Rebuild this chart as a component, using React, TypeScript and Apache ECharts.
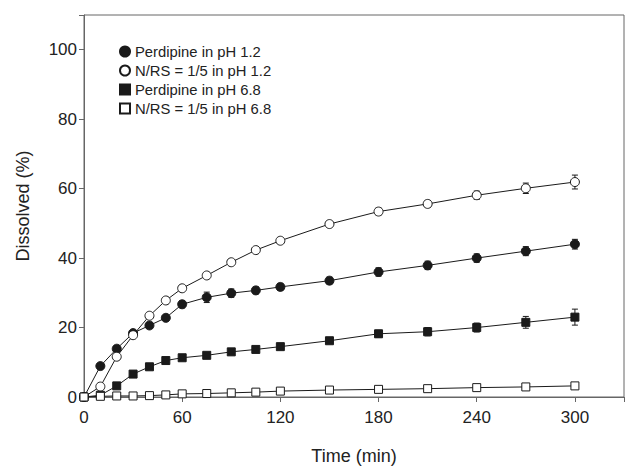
import React, { useEffect, useRef } from "react";
import * as echarts from "echarts";

const times = [0, 10, 20, 30, 40, 50, 60, 75, 90, 105, 120, 150, 180, 210, 240, 270, 300];
const xTicks = [0, 60, 120, 180, 240, 300];
const yTicks = [0, 20, 40, 60, 80, 100];

const seriesNames = [
  "Perdipine in pH 1.2",
  "N/RS = 1/5 in pH 1.2",
  "Perdipine in pH 6.8",
  "N/RS = 1/5 in pH 6.8",
];

const perdipine12 = [0, 8.9, 13.9, 18.4, 20.6, 22.8, 26.7, 28.7, 29.9, 30.7, 31.7, 33.5, 36.0, 37.9, 40.0, 42.0, 44.0];
const perdipine12Err = [0, 0.5, 0.8, 0.8, 0.8, 0.8, 1.0, 1.5, 1.2, 1.0, 1.0, 1.0, 1.2, 1.2, 1.2, 1.3, 1.4];

const nrs12 = [0, 3.0, 11.6, 17.8, 23.4, 27.8, 31.3, 35.0, 38.8, 42.3, 45.0, 49.8, 53.4, 55.6, 58.1, 60.1, 61.9];
const nrs12Err = [0, 0.3, 0.5, 0.5, 0.5, 0.5, 0.5, 0.5, 0.6, 0.6, 0.8, 0.8, 1.0, 1.0, 1.2, 1.5, 2.0];

const perdipine68 = [0, 0.5, 3.2, 6.6, 8.7, 10.5, 11.3, 12.0, 13.0, 13.7, 14.5, 16.2, 18.2, 18.8, 20.0, 21.5, 23.0];
const perdipine68Err = [0, 0.2, 0.3, 0.4, 0.4, 0.4, 0.5, 0.5, 0.5, 0.5, 0.6, 0.8, 1.0, 1.2, 1.3, 1.7, 2.3];

const nrs68 = [0, 0.2, 0.3, 0.3, 0.4, 0.6, 0.9, 1.0, 1.2, 1.4, 1.7, 2.0, 2.2, 2.4, 2.7, 2.9, 3.2];
const nrs68Err = [0, 0.1, 0.1, 0.1, 0.1, 0.1, 0.1, 0.1, 0.1, 0.1, 0.2, 0.2, 0.2, 0.2, 0.2, 0.3, 0.3];

const FONT = "Liberation Sans";
const INK = "#1a1a1a";
const TXT = "#222";
const AXIS = "#666";

function toPairs(vals: number[]) {
  return times.map((t, i) => [t, vals[i]]);
}
function toErr(vals: number[], errs: number[]) {
  return times.map((t, i) => [t, vals[i], errs[i]]);
}

export default function App() {
  const ref = useRef<HTMLDivElement>(null);
  useEffect(() => {
    if (!ref.current) return;
    const chart = echarts.init(ref.current, null, { renderer: "svg" });

    const styles = [
      { symbol: "circle", size: 9, fill: INK },
      { symbol: "circle", size: 9, fill: "#fff" },
      { symbol: "rect", size: 8, fill: INK },
      { symbol: "rect", size: 8, fill: "#fff" },
    ];
    const vals = [perdipine12, nrs12, perdipine68, nrs68];
    const errs = [perdipine12Err, nrs12Err, perdipine68Err, nrs68Err];

    const errorSeries = vals.map((v, k) => ({
      type: "custom",
      name: seriesNames[k] + " err",
      z: 1,
      silent: true,
      data: toErr(v, errs[k]),
      renderItem: (params: any, api: any) => {
        const x = api.value(0);
        const y = api.value(1);
        const e = api.value(2);
        const top = api.coord([x, y + e]);
        const bot = api.coord([x, y - e]);
        const hw = 3;
        const st = { stroke: INK, lineWidth: 1 };
        return {
          type: "group",
          children: [
            { type: "line", shape: { x1: top[0], y1: top[1], x2: bot[0], y2: bot[1] }, style: st },
            { type: "line", shape: { x1: top[0] - hw, y1: top[1], x2: top[0] + hw, y2: top[1] }, style: st },
            { type: "line", shape: { x1: bot[0] - hw, y1: bot[1], x2: bot[0] + hw, y2: bot[1] }, style: st },
          ],
        };
      },
    }));

    const lineSeries = vals.map((v, k) => ({
      type: "line",
      name: seriesNames[k],
      z: 2 + k,
      data: toPairs(v),
      symbol: styles[k].symbol,
      symbolSize: styles[k].size,
      showAllSymbol: true,
      lineStyle: { color: INK, width: 1 },
      itemStyle: { color: styles[k].fill, borderColor: INK, borderWidth: 1, opacity: 1 },
    }));

    chart.setOption({
      animation: false,
      backgroundColor: "#fff",
      textStyle: { fontFamily: FONT },
      grid: {
        left: 84,
        top: 15,
        width: 544.5,
        height: 382,
        show: true,
        borderColor: AXIS,
        borderWidth: 1,
      },
      legend: {
        orient: "vertical",
        left: 114,
        top: 39,
        itemWidth: 10,
        itemHeight: 10,
        itemGap: 4,
        textStyle: { fontFamily: FONT, fontSize: 14.8, color: TXT, lineHeight: 14 },
        data: seriesNames.map((n, k) => ({ name: n, icon: k < 2 ? "circle" : "rect" })),
        selectedMode: false,
      },
      xAxis: {
        type: "value",
        min: 0,
        max: 330,
        interval: 60,
        name: "Time (min)",
        nameLocation: "middle",
        nameGap: 50,
        nameTextStyle: { fontFamily: FONT, fontSize: 18, color: TXT },
        axisLine: { show: true, lineStyle: { color: AXIS, width: 1 } },
        axisTick: { show: true, length: 5, lineStyle: { color: AXIS } },
        axisLabel: {
          fontFamily: FONT,
          fontSize: 17,
          color: TXT,
          margin: 12,
          formatter: (v: number) => (xTicks.includes(v) ? String(v) : ""),
        },
        splitLine: { show: false },
      },
      yAxis: {
        type: "value",
        min: 0,
        max: 110,
        interval: 20,
        name: "Dissolved (%)",
        nameLocation: "middle",
        nameGap: 52,
        nameTextStyle: { fontFamily: FONT, fontSize: 18, color: TXT },
        axisLine: { show: true, lineStyle: { color: AXIS, width: 1 } },
        axisTick: { show: true, length: 5, lineStyle: { color: AXIS } },
        axisLabel: {
          fontFamily: FONT,
          fontSize: 17,
          color: TXT,
          margin: 7,
          formatter: (v: number) => (yTicks.includes(v) ? String(v) : ""),
        },
        splitLine: { show: false },
      },
      series: [...errorSeries, ...lineSeries],
    });
    return () => chart.dispose();
  }, []);

  return (
    <div
      ref={ref}
      style={{ position: "fixed", left: 0, top: 0, width: 627, height: 470, background: "#fff" }}
    />
  );
}
